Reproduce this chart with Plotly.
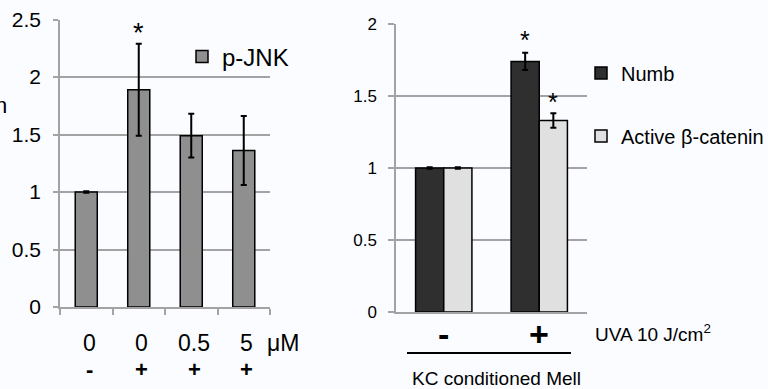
import plotly.graph_objects as go

W, H = 768, 389
def px(x): return x / W
def py(y): return 1 - y / H

FONT = "Liberation Sans, Arial, sans-serif"
GRID = "#a3a3a3"

# ---- Left panel data (p-JNK) ----
jnk_cats = ["a", "b", "c", "d"]
jnk_conc = ["0", "0", "0.5", "5"]
jnk_uva = ["-", "+", "+", "+"]
jnk_vals = [1.0, 1.89, 1.49, 1.36]
jnk_err = [0.006, 0.40, 0.19, 0.30]
jnk_star = [None, 2.38, None, None]

# ---- Right panel data (Numb / active beta-catenin) ----
uva_cats = ["-", "+"]
numb_vals = [1.0, 1.74]
numb_err = [0.006, 0.06]
bcat_vals = [1.0, 1.33]
bcat_err = [0.006, 0.05]
numb_star = [None, 1.89]
bcat_star = [None, 1.46]

fig = go.Figure()

fig.add_trace(go.Bar(
    x=jnk_cats, y=jnk_vals, name="p-JNK", width=0.42,
    marker=dict(color="#8f8f8f", line=dict(color="black", width=1.5)),
    error_y=dict(type="data", array=jnk_err, color="black", thickness=2, width=3),
    xaxis="x", yaxis="y", legend="legend",
))
fig.add_trace(go.Bar(
    x=uva_cats, y=numb_vals, name="Numb",
    marker=dict(color="#2f2f2f", line=dict(color="black", width=1.5)),
    error_y=dict(type="data", array=numb_err, color="black", thickness=2, width=3),
    xaxis="x2", yaxis="y2", legend="legend2", offsetgroup="n",
))
fig.add_trace(go.Bar(
    x=uva_cats, y=bcat_vals, name="Active β-catenin",
    marker=dict(color="#e0e0e0", line=dict(color="black", width=1.5)),
    error_y=dict(type="data", array=bcat_err, color="black", thickness=2, width=3),
    xaxis="x2", yaxis="y2", legend="legend3", offsetgroup="b",
))

ann = []
# left x labels
for i, c in enumerate(jnk_cats):
    ann.append(dict(x=i + 0.06, xref="x", y=py(343), yref="paper", text=jnk_conc[i],
                    showarrow=False, font=dict(size=23, family=FONT, color="black"),
                    xanchor="center", yanchor="middle"))
    ann.append(dict(x=i + 0.06, xref="x", y=py(369), yref="paper", text="<b>%s</b>" % jnk_uva[i],
                    showarrow=False, font=dict(size=22, family=FONT, color="black"),
                    xanchor="center", yanchor="middle"))
    if jnk_star[i] is not None:
        ann.append(dict(x=i, xref="x", y=jnk_star[i], yref="y", text="*",
                        showarrow=False, font=dict(size=27, family=FONT, color="black"),
                        xanchor="center", yanchor="middle"))
ann.append(dict(x=px(283), xref="paper", y=py(343), yref="paper", text="μM",
                showarrow=False, font=dict(size=23, family=FONT, color="black"),
                xanchor="center", yanchor="middle"))
ann.append(dict(x=px(9), xref="paper", y=py(105), yref="paper", text="n",
                showarrow=False, font=dict(size=22, family=FONT, color="black"),
                xanchor="right", yanchor="middle"))

# right panel labels
for i, c in enumerate(uva_cats):
    ann.append(dict(x=i, xref="x2", y=py(334), yref="paper", text="<b>%s</b>" % c,
                    showarrow=False, font=dict(size=34, family=FONT, color="black"),
                    xanchor="center", yanchor="middle"))
    if numb_star[i] is not None:
        ann.append(dict(x=i - 0.1475, xref="x2", y=numb_star[i], yref="y2", text="*",
                        showarrow=False, font=dict(size=25, family=FONT, color="black"),
                        xanchor="center", yanchor="middle"))
    if bcat_star[i] is not None:
        ann.append(dict(x=i + 0.1475, xref="x2", y=bcat_star[i], yref="y2", text="*",
                        showarrow=False, font=dict(size=25, family=FONT, color="black"),
                        xanchor="center", yanchor="middle"))
ann.append(dict(x=px(593), xref="paper", y=py(333), yref="paper", text="UVA 10 J/cm<sup>2</sup>",
                showarrow=False, font=dict(size=19, family=FONT, color="black"),
                xanchor="left", yanchor="middle"))
ann.append(dict(x=px(496), xref="paper", y=py(378), yref="paper", text="KC conditioned Mell",
                showarrow=False, font=dict(size=19, family=FONT, color="black"),
                xanchor="center", yanchor="middle"))

shapes = [dict(type="line", xref="paper", yref="paper", x0=px(407), x1=px(571),
               y0=py(353), y1=py(353), line=dict(color="black", width=2))]

fig.update_layout(
    width=W, height=H, margin=dict(l=0, r=0, t=0, b=0, autoexpand=False),
    paper_bgcolor="#fbfcff", plot_bgcolor="rgba(0,0,0,0)",
    barmode="group", bargap=0.41, bargroupgap=0,
    font=dict(family=FONT, color="black"),
    xaxis=dict(domain=[px(60), px(270)], range=[-0.5, 3.5], type="category",
               showgrid=False, showticklabels=False, ticks="outside", tickson="boundaries",
               ticklen=6, tickcolor=GRID, tickwidth=1.5, automargin=False,
               showline=True, linecolor=GRID, linewidth=1.5, anchor="y"),
    yaxis=dict(domain=[py(307), py(19.5)], range=[0, 2.5], dtick=0.5, ticks="outside",
               ticklen=5, tickcolor=GRID, tickwidth=1.5, ticklabelstandoff=8,
               tickfont=dict(size=21, family=FONT, color="black"), automargin=False,
               showline=True, linecolor=GRID, linewidth=1.5, showgrid=True,
               gridcolor=GRID, gridwidth=1.5, zeroline=False, anchor="x"),
    xaxis2=dict(domain=[px(396), px(587)], range=[-0.5, 1.5], type="category",
                showgrid=False, showticklabels=False, ticks="", automargin=False,
                showline=True, linecolor=GRID, linewidth=1.5, anchor="y2"),
    yaxis2=dict(domain=[py(312), py(24)], range=[0, 2], dtick=0.5, ticks="outside",
                ticklen=6, tickcolor=GRID, tickwidth=1.5, ticklabelstandoff=8,
                tickfont=dict(size=17, family=FONT, color="black"), automargin=False,
                showline=True, linecolor=GRID, linewidth=1.5, showgrid=True,
                gridcolor=GRID, gridwidth=1.5, zeroline=False, anchor="x2"),
    legend=dict(x=px(182), y=py(57), xanchor="left", yanchor="middle",
                font=dict(size=24, family=FONT, color="black"), bgcolor="rgba(0,0,0,0)"),
    legend2=dict(x=px(581), y=py(73), xanchor="left", yanchor="middle",
                 font=dict(size=20, family=FONT, color="black"), bgcolor="rgba(0,0,0,0)"),
    legend3=dict(x=px(581), y=py(136), xanchor="left", yanchor="middle",
                 font=dict(size=20, family=FONT, color="black"), bgcolor="rgba(0,0,0,0)"),
    annotations=ann, shapes=shapes, showlegend=True,
)

fig.write_html("out.html")
